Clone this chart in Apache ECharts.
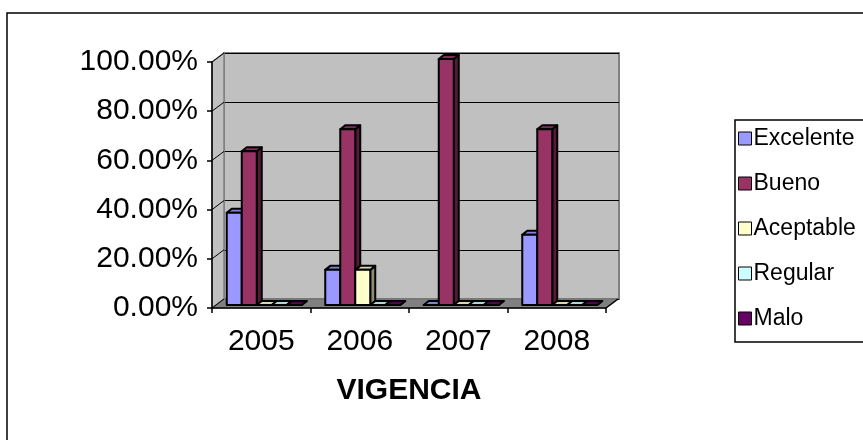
<!DOCTYPE html>
<html>
<head>
<meta charset="utf-8">
<script src="https://cdn.jsdelivr.net/npm/echarts@6/dist/echarts.min.js"></script>
<style>
  html, body { margin: 0; padding: 0; background: #fff; }
  #main { width: 863px; height: 440px; }
</style>
</head>
<body>
<div id="main"></div>
<script>
// datos
const categories = ["2005", "2006", "2007", "2008"];
const seriesNames = ["Excelente", "Bueno", "Aceptable", "Regular", "Malo"];
const excelente = [0.375, 0.1429, 0, 0.2857];
const bueno = [0.625, 0.7143, 1, 0.7143];
const aceptable = [0, 0.1429, 0, 0];
const regular = [0, 0, 0, 0];
const malo = [0, 0, 0, 0];
const yTicks = [0, 0.2, 0.4, 0.6, 0.8, 1];

const seriesValues = [excelente, bueno, aceptable, regular, malo];
const colors = ["#9999FF", "#993366", "#FFFFCC", "#CCFFFF", "#660066"];
const FONT = "'Liberation Sans', Arial, sans-serif";

// area del grafico (plano frontal) y profundidad de las paredes
const GL = 212, GT = 62, GW = 394, GH = 246;
const WX = 12, WY = -9;   // desplazamiento de la pared del fondo
const BX = 5, BY = -4;    // profundidad de cada barra
const BAR_W = 15;

function shade(hex, f) {
  const n = parseInt(hex.slice(1), 16);
  const r = Math.round(((n >> 16) & 255) * f);
  const g = Math.round(((n >> 8) & 255) * f);
  const b = Math.round((n & 255) * f);
  return "rgb(" + r + "," + g + "," + b + ")";
}

function makeRender(k) {
  return function (params, api) {
    const ci = api.value(0);
    const v = api.value(1);
    const base = api.coord([ci, 0]);
    const top = api.coord([ci, v]);
    const x0 = base[0] - BAR_W * 2.5 + k * BAR_W + 3;
    const yb = base[1] - 3;
    const yt = top[1] - 3;
    const c = colors[k];
    const edge = { stroke: "#000", lineWidth: 2, lineJoin: "round" };
    return {
      type: "group",
      children: [
        {
          type: "polygon",
          shape: { points: [[x0 + BAR_W, yt], [x0 + BAR_W + BX, yt + BY], [x0 + BAR_W + BX, yb + BY], [x0 + BAR_W, yb]] },
          style: Object.assign({ fill: shade(c, 0.55) }, edge)
        },
        {
          type: "polygon",
          shape: { points: [[x0, yt], [x0 + BX, yt + BY], [x0 + BAR_W + BX, yt + BY], [x0 + BAR_W, yt]] },
          style: Object.assign({ fill: shade(c, 0.85) }, edge)
        },
        {
          type: "rect",
          shape: { x: x0, y: yt, width: BAR_W, height: yb - yt },
          style: Object.assign({ fill: c }, edge)
        }
      ]
    };
  };
}

const series = seriesNames.map(function (name, k) {
  return {
    name: name,
    type: "custom",
    xAxisIndex: 0,
    yAxisIndex: 0,
    z: 20,
    itemStyle: { color: colors[k], borderColor: "#000", borderWidth: 1 },
    renderItem: makeRender(k),
    encode: { x: 0, y: 1 },
    data: categories.map(function (c, i) { return [i, seriesValues[k][i]]; })
  };
});

const myChart = echarts.init(document.getElementById("main"));

const option = {
  animation: false,
  backgroundColor: "#fff",
  textStyle: { fontFamily: FONT },
  grid: [
    { left: GL, top: GT, width: GW, height: GH, containLabel: false },
    {
      left: GL + WX, top: GT + WY, width: GW + 1, height: GH,
      show: true, backgroundColor: "#C0C0C0", borderColor: "#808080", borderWidth: 2
    }
  ],
  xAxis: [
    {
      type: "category",
      gridIndex: 0,
      data: categories,
      boundaryGap: true,
      z: 15,
      axisLine: { lineStyle: { color: "#000", width: 1.5 } },
      axisTick: { show: true, length: 5, lineStyle: { color: "#000", width: 1.5 } },
      axisLabel: { color: "#000", fontSize: 30, fontFamily: FONT, margin: 19 },
      name: "VIGENCIA",
      nameLocation: "middle",
      nameGap: 68,
      nameTextStyle: { color: "#000", fontSize: 30, fontWeight: "bold", fontFamily: FONT }
    },
    { type: "category", gridIndex: 1, data: categories, show: false }
  ],
  yAxis: [
    {
      type: "value",
      gridIndex: 0,
      min: 0,
      max: 1,
      interval: 0.2,
      z: 15,
      axisLine: { show: true, lineStyle: { color: "#000", width: 1.5 } },
      axisTick: { show: true, length: 5, lineStyle: { color: "#000", width: 1.5 } },
      splitLine: { show: false },
      axisLabel: {
        color: "#000",
        fontSize: 30,
        fontFamily: FONT,
        margin: 14,
        formatter: function (v) { return (v * 100).toFixed(2) + "%"; }
      }
    },
    {
      type: "value",
      gridIndex: 1,
      min: 0,
      max: 1,
      interval: 0.2,
      axisLine: { show: false },
      axisTick: { show: false },
      axisLabel: { show: false },
      splitLine: { show: true, lineStyle: { color: "#000", width: 1 } }
    }
  ],
  legend: {
    orient: "vertical",
    left: 738,
    top: 127,
    padding: 0,
    itemWidth: 13,
    itemHeight: 13,
    itemGap: 22,
    icon: "rect",
    selectedMode: false,
    data: seriesNames,
    itemStyle: { borderColor: "#000", borderWidth: 1 },
    textStyle: { color: "#000", fontSize: 23, fontFamily: FONT, lineHeight: 23, padding: [0, 0, 0, -3] }
  },
  series: series
};

myChart.setOption(option);

// paredes, piso y marcos
const graphics = [
  {
    type: "rect", z: 1, silent: true,
    shape: { x: 7, y: 13, width: 1000, height: 1000 },
    style: { fill: null, stroke: "#000", lineWidth: 1.5 }
  },
  {
    type: "rect", z: 1, silent: true,
    shape: { x: 735, y: 120, width: 300, height: 222 },
    style: { fill: null, stroke: "#000", lineWidth: 1.5 }
  },
  {
    type: "polygon", z: 5, silent: true,
    shape: { points: [[GL, GT], [GL + WX, GT + WY], [GL + WX, GT + GH + WY], [GL, GT + GH]] },
    style: { fill: "#C0C0C0", stroke: "#808080", lineWidth: 1.5 }
  },
  {
    type: "polygon", z: 5, silent: true,
    shape: { points: [[GL, GT + GH], [GL + WX, GT + GH + WY], [GL + GW + WX, GT + GH + WY], [GL + GW, GT + GH]] },
    style: { fill: "#808080", stroke: "#707070", lineWidth: 1 }
  },
  {
    type: "line", z: 6, silent: true,
    shape: { x1: GL + GW, y1: GT + GH, x2: GL + GW + WX, y2: GT + GH + WY },
    style: { stroke: "#000", lineWidth: 1.5 }
  }
];
yTicks.forEach(function (v) {
  const y = myChart.convertToPixel({ yAxisIndex: 0 }, v);
  graphics.push({
    type: "line", z: 6, silent: true,
    shape: { x1: GL, y1: y, x2: GL + WX, y2: y + WY },
    style: { stroke: "#000", lineWidth: 1 }
  });
});
myChart.setOption({ graphic: graphics });
</script>
</body>
</html>
